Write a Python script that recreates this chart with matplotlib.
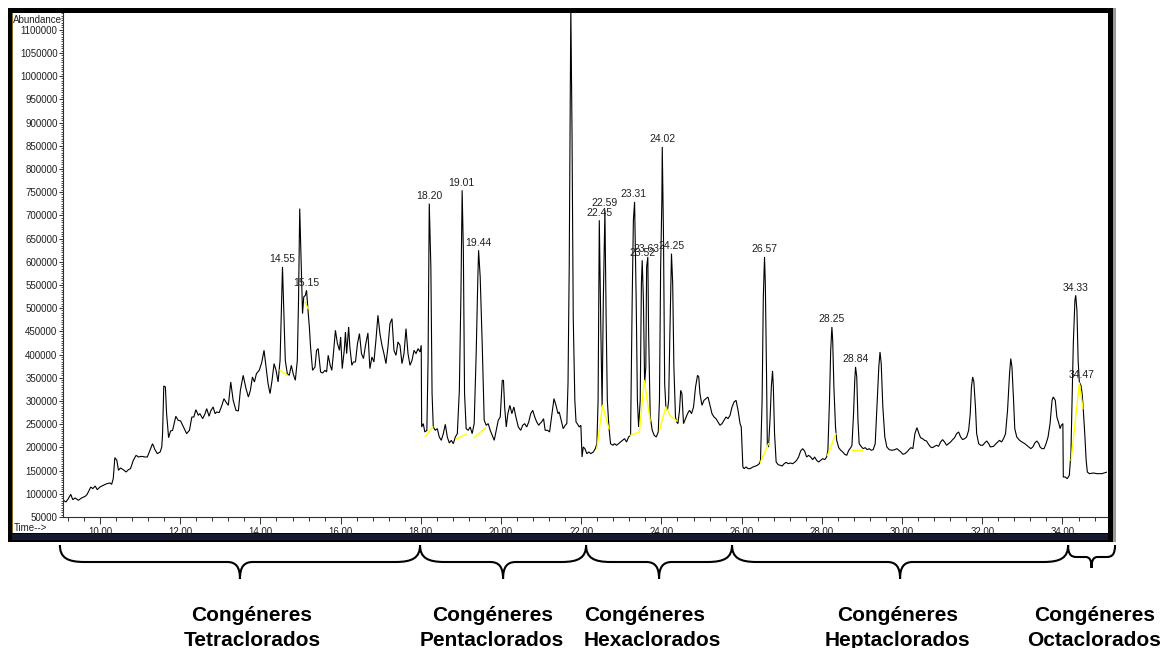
import numpy as np
import matplotlib
matplotlib.use("Agg")
import matplotlib.pyplot as plt
from matplotlib.path import Path
from matplotlib.patches import PathPatch, Rectangle
from matplotlib.transforms import blended_transform_factory
from matplotlib.ticker import MultipleLocator, FixedLocator

plt.rcParams["font.family"] = ["Liberation Sans", "DejaVu Sans"]

# trace: retention time (min), abundance (thousands)
tetra_rt = [9.09, 9.15, 9.21, 9.27, 9.32, 9.38, 9.46, 9.54, 9.63, 9.68, 9.77, 9.82, 9.88, 9.93,
            10.00, 10.08, 10.17, 10.25, 10.29, 10.33, 10.37, 10.42, 10.46, 10.51, 10.58, 10.65,
            10.71, 10.76, 10.83, 10.90, 10.96, 11.04, 11.12, 11.18, 11.23, 11.31, 11.37, 11.43,
            11.50, 11.54, 11.56, 11.59, 11.63, 11.66, 11.71, 11.76, 11.81, 11.89, 11.95, 12.01,
            12.08, 12.16, 12.23, 12.29, 12.34, 12.39, 12.45, 12.49, 12.56, 12.62, 12.66, 12.72,
            12.76, 12.82, 12.87, 12.91, 12.97, 13.04, 13.09, 13.14, 13.20, 13.26, 13.32, 13.39,
            13.45, 13.50, 13.57, 13.64, 13.70, 13.75, 13.80, 13.85, 13.90, 13.97, 14.03, 14.09,
            14.14, 14.19, 14.24, 14.29, 14.34, 14.39, 14.44, 14.49, 14.52, 14.55, 14.58, 14.62,
            14.67, 14.72, 14.77, 14.82, 14.87, 14.92, 14.95, 14.98, 15.02, 15.05, 15.08, 15.12,
            15.15, 15.18, 15.22, 15.25, 15.30, 15.36, 15.40, 15.44, 15.47, 15.50, 15.55, 15.61,
            15.65, 15.69, 15.74, 15.78, 15.82, 15.87, 15.92, 15.97, 16.00, 16.04, 16.09, 16.12,
            16.15, 16.20, 16.23, 16.28, 16.32, 16.37, 16.42, 16.47, 16.52, 16.57, 16.62, 16.68,
            16.73, 16.78, 16.83, 16.88, 16.93, 16.98, 17.03, 17.08, 17.13, 17.18, 17.23, 17.28,
            17.33, 17.38, 17.43, 17.48, 17.53, 17.58, 17.63, 17.68, 17.73, 17.78, 17.83, 17.88,
            17.93, 17.98, 18.01]
tetra_ab = [85.9, 82.3, 89.5, 98.9, 87.4, 91.0, 85.9, 91.0, 94.5, 98.9, 114.7, 111.1, 116.8, 108.9,
            114.7, 118.2, 121.8, 123.3, 120.4, 132.6, 177.9, 172.1, 150.6, 155.6, 152.0, 147.0,
            152.0, 154.2, 172.1, 182.9, 179.3, 180.7, 179.3, 179.3, 190.1, 208.0, 195.1, 186.5,
            190.1, 200.9, 229.6, 332.3, 330.2, 272.7, 221.0, 235.3, 236.8, 267.0, 258.3, 256.9,
            244.0, 229.6, 236.8, 265.5, 265.5, 281.3, 269.1, 272.7, 261.9, 272.7, 283.5, 267.0,
            278.5, 287.1, 272.7, 276.3, 274.9, 290.7, 305.0, 297.8, 290.7, 341.0, 301.4, 279.9,
            278.5, 323.0, 355.3, 326.6, 308.6, 323.0, 351.7, 341.0, 358.9, 366.1, 381.9, 409.2,
            373.3, 337.4, 315.8, 344.5, 380.5, 366.1, 341.0, 387.6, 488.2, 588.8, 502.6, 387.6,
            358.9, 355.3, 376.9, 357.5, 344.5, 387.6, 517.0, 714.5, 588.8, 488.2, 524.1, 527.7,
            538.5, 502.6, 459.5, 416.4, 366.1, 373.0, 409.2, 412.8, 387.6, 362.5, 360.3, 366.1,
            362.5, 398.4, 376.9, 366.1, 402.0, 452.3, 423.6, 409.2, 437.9, 369.7, 409.2, 448.7,
            402.0, 459.5, 416.4, 376.9, 384.1, 384.1, 423.6, 445.1, 402.0, 391.2, 420.0, 446.6,
            369.7, 394.8, 384.1, 430.8, 484.6, 445.1, 420.0, 402.0, 380.5, 416.4, 466.7, 477.4,
            409.2, 398.4, 427.2, 420.0, 380.5, 402.0, 455.9, 402.0, 376.9, 387.6, 409.2, 402.0,
            412.8, 405.6, 420.0]

penta_rt = [18.02, 18.06, 18.10, 18.15, 18.18, 18.21, 18.25, 18.28, 18.31, 18.36, 18.41, 18.46,
            18.51, 18.56, 18.61, 18.66, 18.71, 18.76, 18.81, 18.86, 18.91, 18.96, 19.00, 19.03,
            19.06, 19.09, 19.13, 19.18, 19.23, 19.28, 19.33, 19.38, 19.42, 19.44, 19.48, 19.53,
            19.58, 19.63, 19.68, 19.73, 19.78, 19.83, 19.88, 19.93, 19.98, 20.03, 20.06, 20.09,
            20.13, 20.17, 20.22, 20.27, 20.32, 20.37, 20.43, 20.49, 20.54, 20.59, 20.64, 20.69,
            20.74, 20.79, 20.84, 20.89, 20.94, 20.97, 21.01, 21.06, 21.10, 21.16, 21.21, 21.26,
            21.32, 21.37, 21.42, 21.45, 21.50, 21.55, 21.60, 21.64, 21.67, 21.70, 21.74, 21.77,
            21.80, 21.84, 21.87, 21.90, 21.95, 21.99]
penta_ab = [244.0, 251.2, 233.2, 236.8, 387.6, 725.3, 588.8, 315.8, 244.0, 236.8, 240.4, 222.4,
            215.2, 229.6, 249.7, 222.4, 209.5, 215.2, 208.0, 222.4, 229.6, 323.0, 531.3, 754.0,
            624.7, 315.8, 240.4, 236.8, 244.0, 229.6, 251.2, 402.0, 560.1, 624.7, 567.3, 423.6,
            258.3, 247.6, 251.2, 236.8, 226.0, 215.2, 236.8, 258.3, 265.5, 344.5, 344.5, 287.1,
            244.0, 272.7, 290.7, 272.7, 287.1, 265.5, 244.0, 236.8, 247.6, 251.2, 244.0, 254.7,
            272.7, 279.9, 265.5, 254.7, 247.6, 251.2, 254.7, 261.9, 236.8, 236.8, 233.2, 265.5,
            305.0, 290.7, 272.7, 276.3, 258.3, 240.4, 247.6, 251.2, 337.4, 588.8, 1150.0, 876.2,
            481.0, 301.4, 254.7, 251.2, 244.0, 247.6]

hexa_rt = [22.02, 22.05, 22.09, 22.14, 22.19, 22.24, 22.30, 22.35, 22.39, 22.42, 22.45, 22.49,
           22.52, 22.55, 22.59, 22.62, 22.65, 22.69, 22.73, 22.79, 22.83, 22.88, 22.93, 22.98,
           23.03, 23.08, 23.13, 23.18, 23.23, 23.27, 23.30, 23.33, 23.37, 23.40, 23.43, 23.47,
           23.50, 23.52, 23.55, 23.58, 23.61, 23.63, 23.66, 23.68, 23.72, 23.77, 23.82, 23.87,
           23.92, 23.95, 23.98, 24.01, 24.02, 24.05, 24.08, 24.11, 24.15, 24.18, 24.21, 24.25,
           24.28, 24.31, 24.35, 24.38, 24.41, 24.45, 24.48, 24.51, 24.55, 24.60, 24.65, 24.70,
           24.75, 24.80, 24.85, 24.90, 24.93, 24.96, 25.01, 25.06, 25.11, 25.16, 25.21, 25.26,
           25.31, 25.36, 25.41, 25.46, 25.51, 25.56, 25.61, 25.66, 25.71, 25.76, 25.81, 25.86,
           25.91, 25.96, 25.99]
hexa_ab = [179.3, 200.9, 197.3, 186.5, 190.1, 186.5, 190.1, 197.3, 208.0, 301.4, 689.4, 445.1,
           287.1, 517.0, 711.0, 481.0, 301.4, 244.0, 208.0, 204.5, 208.0, 204.5, 208.0, 211.6,
           215.2, 218.8, 211.6, 222.4, 226.0, 517.0, 689.4, 728.9, 517.0, 301.4, 244.0, 301.4,
           552.9, 603.2, 517.0, 337.4, 373.3, 588.8, 610.4, 445.1, 265.5, 236.8, 226.0, 222.4,
           233.2, 301.4, 588.8, 732.5, 847.4, 660.6, 337.4, 287.1, 279.9, 301.4, 445.1, 617.5,
           552.9, 373.3, 265.5, 254.7, 251.2, 279.9, 323.0, 315.8, 251.2, 261.9, 272.7, 279.9,
           272.7, 287.1, 330.2, 355.3, 351.7, 315.8, 290.7, 301.4, 305.0, 308.6, 290.7, 272.7,
           265.5, 261.9, 254.7, 247.6, 251.2, 258.3, 265.5, 261.9, 269.1, 287.1, 297.8, 301.4,
           279.9, 251.2, 244.0]

hepta_rt = [26.03, 26.06, 26.11, 26.16, 26.21, 26.28, 26.33, 26.39, 26.44, 26.47, 26.51, 26.54,
            26.57, 26.59, 26.62, 26.64, 26.67, 26.71, 26.74, 26.77, 26.79, 26.82, 26.86, 26.91,
            26.96, 27.01, 27.06, 27.11, 27.16, 27.21, 27.27, 27.33, 27.37, 27.42, 27.47, 27.52,
            27.57, 27.62, 27.67, 27.72, 27.77, 27.82, 27.87, 27.92, 27.97, 28.02, 28.07, 28.12,
            28.15, 28.19, 28.22, 28.25, 28.27, 28.30, 28.34, 28.37, 28.42, 28.47, 28.52, 28.57,
            28.62, 28.67, 28.72, 28.75, 28.79, 28.82, 28.84, 28.87, 28.90, 28.93, 28.99, 29.03,
            29.08, 29.13, 29.18, 29.23, 29.28, 29.33, 29.38, 29.42, 29.45, 29.48, 29.52, 29.57,
            29.62, 29.68, 29.75, 29.82, 29.87, 29.92, 29.97, 30.02, 30.07, 30.12, 30.17, 30.22,
            30.27, 30.32, 30.37, 30.42, 30.46, 30.51, 30.56, 30.61, 30.66, 30.71, 30.76, 30.81,
            30.86, 30.91, 30.96, 31.01, 31.06, 31.11, 31.16, 31.21, 31.26, 31.31, 31.36, 31.41,
            31.46, 31.51, 31.56, 31.61, 31.66, 31.70, 31.73, 31.76, 31.79, 31.83, 31.86, 31.91,
            31.96, 32.01, 32.06, 32.11, 32.16, 32.20, 32.28, 32.36, 32.43, 32.48, 32.53, 32.58,
            32.63, 32.68, 32.71, 32.74, 32.78, 32.81, 32.86, 32.93, 32.99, 33.06, 33.11, 33.16,
            33.21, 33.26, 33.31, 33.36, 33.41, 33.44, 33.49, 33.54, 33.59, 33.64, 33.69, 33.74,
            33.77, 33.82, 33.86, 33.91, 33.94, 33.97, 34.01]
hepta_ab = [157.8, 154.2, 157.8, 154.2, 154.2, 157.8, 159.2, 161.4, 164.9, 172.1, 301.4, 524.1,
            610.4, 552.9, 358.9, 204.5, 200.9, 265.5, 330.2, 364.7, 330.2, 229.6, 168.5, 162.8,
            161.4, 159.9, 164.9, 167.8, 164.9, 166.4, 164.9, 168.5, 172.1, 179.3, 192.2, 197.3,
            192.2, 179.3, 182.9, 179.3, 173.6, 179.3, 172.1, 168.5, 172.1, 175.7, 173.6, 179.3,
            193.7, 301.4, 409.2, 459.5, 430.8, 330.2, 244.0, 215.2, 199.4, 193.7, 190.1, 185.1,
            182.9, 193.7, 199.4, 204.5, 272.7, 344.5, 373.3, 351.7, 258.3, 208.0, 200.9, 197.3,
            199.4, 195.1, 197.3, 193.7, 195.1, 208.0, 301.4, 373.3, 405.6, 380.5, 287.1, 222.4,
            200.9, 195.1, 193.7, 195.1, 197.3, 193.7, 190.1, 185.1, 186.5, 190.1, 195.1, 199.4,
            197.3, 229.6, 242.5, 229.6, 221.0, 218.8, 215.2, 213.8, 206.6, 200.9, 199.4, 202.3,
            204.5, 202.3, 211.6, 216.7, 211.6, 204.5, 208.0, 211.6, 216.7, 221.0, 229.6, 233.2,
            222.4, 216.7, 218.8, 222.4, 236.8, 272.7, 330.2, 351.7, 341.0, 287.1, 229.6, 208.0,
            204.5, 204.5, 209.5, 213.8, 208.0, 200.9, 202.3, 209.5, 215.2, 211.6, 218.8, 229.6,
            279.9, 358.9, 391.2, 373.3, 301.4, 240.4, 222.4, 215.2, 211.6, 208.0, 204.5, 200.9,
            197.3, 200.9, 209.5, 213.8, 208.0, 200.9, 197.3, 197.3, 208.0, 222.4, 251.2, 301.4,
            308.6, 301.4, 265.5, 251.2, 240.4, 247.6, 251.2]

octa_rt = [34.02, 34.07, 34.12, 34.17, 34.21, 34.24, 34.27, 34.31, 34.33, 34.36, 34.39, 34.42,
           34.46, 34.49, 34.52, 34.56, 34.59, 34.62, 34.67, 34.77, 34.86, 34.98, 35.06, 35.12]
octa_ab = [136.2, 136.2, 132.6, 139.8, 186.5, 301.4, 423.6, 517.0, 527.7, 495.4, 387.6, 341.0,
           333.8, 315.8, 279.9, 222.4, 172.1, 147.0, 143.4, 144.8, 143.4, 143.4, 145.5, 147.0]

# labelled peaks
peak_rt = [14.55, 15.15, 18.20, 19.01, 19.44, 22.45, 22.59, 23.31, 23.52, 23.63, 24.02, 24.25,
           26.57, 28.25, 28.84, 34.33, 34.47]
peak_ab = [588.8, 538.5, 725.3, 754.0, 624.7, 689.4, 711.0, 728.9, 603.2, 610.4, 847.4, 617.5,
           610.4, 459.5, 373.3, 527.7, 338.8]

# yellow integration baselines
base_rt = [[14.49, 14.67], [15.11, 15.19], [18.11, 18.30], [18.89, 19.13], [19.33, 19.61],
           [22.39, 22.53, 22.69], [23.23, 23.45, 23.57, 23.72], [23.95, 24.11, 24.21, 24.38],
           [26.47, 26.67], [28.14, 28.35], [28.74, 28.99], [34.215, 34.42, 34.51]]
base_ab = [[366.1, 355.3], [513.4, 499.0], [223.9, 244.0], [218.8, 228.2], [221.0, 241.8],
           [197.3, 290.7, 240.4], [226.0, 233.2, 344.5, 256.9], [236.8, 287.1, 269.1, 256.9],
           [168.5, 208.0], [182.9, 229.6], [195.1, 195.1], [172.1, 338.8, 283.5]]

# congener windows (min) and labels
group_names = ["Tetraclorados", "Pentaclorados", "Hexaclorados", "Heptaclorados", "Octaclorados"]
group_edges = [9.0, 17.98, 22.12, 25.76, 34.14, 35.31]
group_text_x = [13.79, 19.78, 22.07, 29.88, 34.79]
group_text_ha = ["center", "center", "left", "center", "center"]

W, H = 1171, 648
fig = plt.figure(figsize=(W / 100, H / 100), dpi=100)


def fx(px):
    return px / W


def fy(py):
    return 1 - py / H


def frame_rect(x0, y0, x1, y1, color, z=-5):
    fig.patches.append(Rectangle((fx(x0), fy(y1)), fx(x1) - fx(x0), fy(y0) - fy(y1),
                                 transform=fig.transFigure, color=color, zorder=z, lw=0))


# screenshot window frame
frame_rect(8, 8, 1113, 542, "black", -6)
frame_rect(1113, 8, 1116, 542, "#9a9a9a", -6)
frame_rect(12, 13, 1108, 533, "white", -5)
frame_rect(11.5, 13, 12.7, 533, "#8c6a24", -4)
frame_rect(12, 534, 1108, 540, "#161a30", -4)

ax = fig.add_axes([fx(63), fy(517), fx(1107) - fx(63), fy(13) - fy(517)])
ax.set_zorder(5)
ax.patch.set_visible(False)

rt = np.array(tetra_rt + penta_rt + hexa_rt + hepta_rt + octa_rt)
ab = np.array(tetra_ab + penta_ab + hexa_ab + hepta_ab + octa_ab) * 1000
ax.plot(rt, ab, color="black", lw=0.8, solid_joinstyle="miter")

for brt, bab in zip(base_rt, base_ab):
    ax.plot(brt, np.array(bab) * 1000, color="#ffff00", lw=1.0)

for prt, pab in zip(peak_rt, peak_ab):
    ax.annotate(f"{prt:.2f}", (prt, pab * 1000), xytext=(0, 5.5), textcoords="offset points",
                ha="center", va="center", fontsize=7.5, color="#202020")

ax.set_xlim(9.077, 35.11)
ax.set_ylim(50000, 1136000)
for s in ["top", "right"]:
    ax.spines[s].set_visible(False)
for s in ["left", "bottom"]:
    ax.spines[s].set_color("#303030")
    ax.spines[s].set_linewidth(0.8)

yt = np.arange(50000, 1100001, 50000)
ax.yaxis.set_major_locator(FixedLocator(yt))
ax.set_yticklabels([str(v) for v in yt])
ax.yaxis.set_minor_locator(MultipleLocator(5000))
xt = np.arange(10, 35, 2)
ax.xaxis.set_major_locator(FixedLocator(xt))
ax.set_xticklabels([f"{v:.2f}" for v in xt])
ax.xaxis.set_minor_locator(MultipleLocator(0.4))
ax.tick_params(axis="both", which="major", labelsize=7, colors="#303030", width=0.7,
               labelcolor="#202020")
ax.tick_params(axis="y", which="major", length=3, pad=1)
ax.tick_params(axis="y", which="minor", length=1.5, width=0.6, colors="#303030")
ax.tick_params(axis="x", which="major", length=5, pad=2)
ax.tick_params(axis="x", which="minor", length=3, width=0.7, colors="#303030")

fig.text(fx(13), fy(20), "Abundance", fontsize=7, color="#202020", ha="left", va="center")
fig.text(fx(14), fy(528), "Time-->", fontsize=7, color="#202020", ha="left", va="center")

# braces under the time axis
btr = blended_transform_factory(ax.transData, fig.transFigure)
for i, name in enumerate(group_names):
    x0, x1 = group_edges[i], group_edges[i + 1]
    w = x1 - x0
    xm = (x0 + x1) / 2
    wide = w > 2
    y_top = fy(545)
    y_mid = fy(562) if wide else fy(557)
    y_tip = fy(579) if wide else fy(568)
    r = min(0.62, w * 0.18)
    rt_ = min(0.32, w * 0.13)
    verts = [
        (x0, y_top),
        (x0, y_top + 0.75 * (y_mid - y_top)), (x0 + 0.3 * r, y_mid), (x0 + r, y_mid),
        (xm - rt_, y_mid),
        (xm - 0.3 * rt_, y_mid), (xm, y_mid + 0.3 * (y_tip - y_mid)), (xm, y_tip),
        (xm, y_mid + 0.3 * (y_tip - y_mid)), (xm + 0.3 * rt_, y_mid), (xm + rt_, y_mid),
        (x1 - r, y_mid),
        (x1 - 0.3 * r, y_mid), (x1, y_top + 0.75 * (y_mid - y_top)), (x1, y_top),
    ]
    codes = [Path.MOVETO, Path.CURVE4, Path.CURVE4, Path.CURVE4, Path.LINETO,
             Path.CURVE4, Path.CURVE4, Path.CURVE4, Path.CURVE4, Path.CURVE4, Path.CURVE4,
             Path.LINETO, Path.CURVE4, Path.CURVE4, Path.CURVE4]
    fig.patches.append(PathPatch(Path(verts, codes), transform=btr, fill=False,
                                 edgecolor="black", lw=1.5, capstyle="butt", zorder=3))
    tx = group_text_x[i]
    ha = group_text_ha[i]
    fig.text(tx, fy(621), "Congéneres", transform=btr, ha=ha, va="baseline",
             fontsize=15, fontweight="bold", color="black")
    fig.text(tx, fy(646), name, transform=btr, ha=ha, va="baseline",
             fontsize=15, fontweight="bold", color="black")

fig.savefig("out.png", dpi=100, facecolor="white")
